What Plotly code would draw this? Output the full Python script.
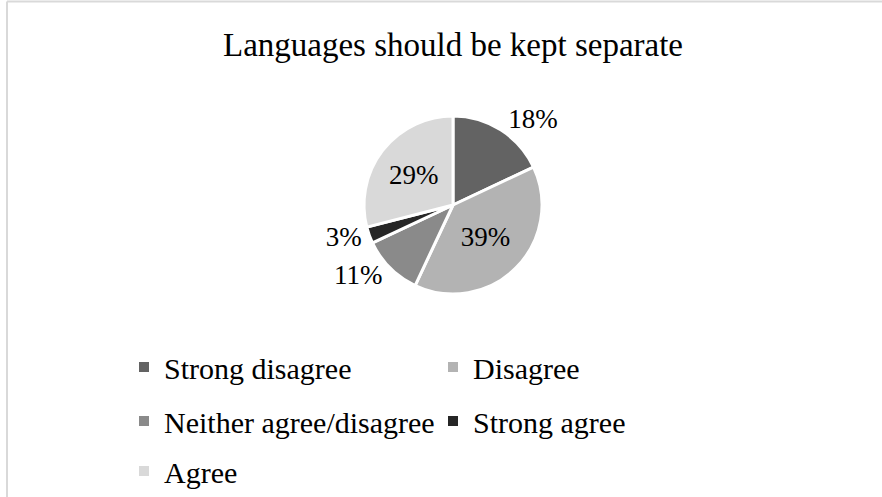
import plotly.graph_objects as go

categories = ["Strong disagree", "Disagree", "Neither agree/disagree", "Strong agree", "Agree"]
values = [18, 39, 11, 3, 29]
colors = ["#636363", "#b3b3b3", "#8a8a8a", "#262626", "#d9d9d9"]
text_positions = ["outside", "inside", "outside", "outside", "inside"]
legend_rows = ["legend", "legend", "legend2", "legend2", "legend3"]
title_text = "Languages should be kept separate"

W, H = 882, 497
FONT = "Liberation Serif, Times New Roman, serif"

fig = go.Figure()
fig.add_trace(go.Pie(
    labels=categories,
    values=values,
    sort=False,
    direction="clockwise",
    rotation=0,
    marker=dict(colors=colors, line=dict(color="white", width=3)),
    texttemplate="%{percent:.0%}",
    textposition=text_positions,
    insidetextorientation="horizontal",
    textfont=dict(family=FONT, size=27, color="black"),
    domain=dict(x=[364 / W, 542 / W], y=[1 - 294 / H, 1 - 116 / H]),
    automargin=False,
    showlegend=False,
))

# legend entries (one per category), arranged in rows like the reference
for cat, col, lg in zip(categories, colors, legend_rows):
    fig.add_trace(go.Scatter(
        x=[None], y=[None], mode="markers", name=cat,
        marker=dict(symbol="square", size=10, color=col),
        legend=lg, showlegend=True,
    ))

row_y = {"legend": 367, "legend2": 421, "legend3": 471}
leg_common = dict(orientation="h", x=124 / W, xanchor="left", yanchor="middle",
                  font=dict(family=FONT, size=30, color="black"),
                  entrywidth=264, entrywidthmode="pixels",
                  bgcolor="rgba(0,0,0,0)", borderwidth=0)

fig.update_layout(
    width=W, height=H,
    margin=dict(l=0, r=0, t=0, b=0),
    paper_bgcolor="white",
    plot_bgcolor="white",
    font=dict(family=FONT, color="black", size=24),
    title=dict(text=title_text, x=453 / W, xanchor="center", y=1 - 44 / H, yanchor="middle",
               font=dict(family=FONT, size=33, color="black")),
    xaxis=dict(visible=False),
    yaxis=dict(visible=False),
    legend=dict(y=1 - row_y["legend"] / H, **leg_common),
    legend2=dict(y=1 - row_y["legend2"] / H, **leg_common),
    legend3=dict(y=1 - row_y["legend3"] / H, **leg_common),
    shapes=[
        dict(type="line", xref="paper", yref="paper", x0=7 / W, y0=0, x1=7 / W, y1=1 - 1.5 / H,
             line=dict(color="#d9d9d9", width=2)),
        dict(type="line", xref="paper", yref="paper", x0=7 / W, y0=1 - 1.5 / H, x1=1, y1=1 - 1.5 / H,
             line=dict(color="#d9d9d9", width=2)),
    ],
)

fig.write_html("out.html",
               config={"displayModeBar": False},
               post_script="document.body.style.margin='0';document.body.style.overflow='hidden';")
